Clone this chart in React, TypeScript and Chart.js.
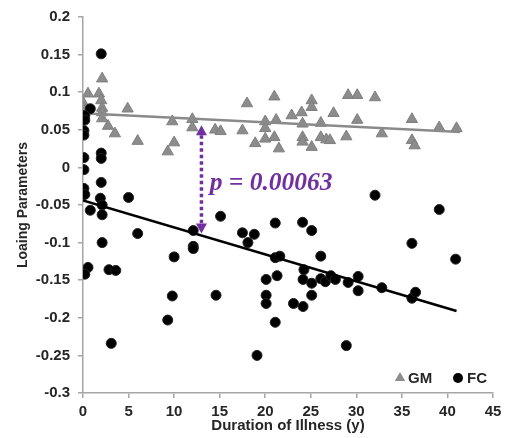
import { useEffect, useRef } from "react";
import { Chart, registerables } from "chart.js";

Chart.register(...registerables);

// Gray matter (GM) loading parameters vs duration of illness
const gmDuration = [
  0.0, 0.3, 0.55, 1.75, 2.0, 2.1, 2.1, 2.1, 2.1, 2.75, 3.5, 4.9, 6.0, 9.8, 10.0, 9.3,
  12.0, 12.0, 14.5, 15.1, 17.5, 18.0, 21.0, 20.0, 21.2, 20.0, 18.9, 20.0, 21.0, 21.5,
  22.9, 24.0, 25.1, 25.1, 24.1, 26.1, 24.1, 24.1, 25.1, 26.1, 26.7, 27.1, 27.5, 29.1,
  30.1, 32.05, 30.1, 36.1, 39.1, 41.0, 28.9, 32.8, 36.1, 36.4,
];
const gmLoading = [
  0.086, 0.076, 0.098, 0.098, 0.089, 0.118, 0.079, 0.073, 0.065, 0.055, 0.045, 0.078, 0.035, 0.061, 0.033, 0.021,
  0.064, 0.053, 0.05, 0.048, 0.049, 0.085, 0.094, 0.061, 0.063, 0.052, 0.032, 0.038, 0.04, 0.025,
  0.069, 0.073, 0.089, 0.08, 0.058, 0.059, 0.04, 0.034, 0.027, 0.04, 0.037, 0.036, 0.072, 0.096,
  0.096, 0.093, 0.063, 0.064, 0.053, 0.052, 0.041, 0.045, 0.036, 0.029,
];

// Functional connectivity (FC) loading parameters vs duration of illness
const fcDuration = [
  0.1, 2.0, 2.0, 2.0, 0.1, 2.0, 0.1, 0.2, 1.9, 5.0, 0.8, 2.1, 2.1, 6.0, 2.1, 12.1,
  12.1, 12.1, 10.0, 0.55, 0.2, 2.85, 3.6, 9.8, 9.3, 3.1, 0.8, 0.2, 0.2, 0.1, 0.1,
  15.1, 21.1, 24.1, 25.1, 17.5, 18.8, 18.1, 21.1, 21.6, 26.1, 24.25, 20.1, 21.3, 24.15,
  25.1, 26.1, 26.6, 27.2, 27.7, 14.6, 20.1, 20.1, 23.1, 24.15, 25.1, 21.1, 19.1,
  32.05, 39.1, 36.1, 40.9, 29.1, 30.2, 30.2, 32.8, 36.1, 36.5, 28.9,
];
const fcLoading = [
  0.013, 0.151, 0.019, 0.012, -0.003, -0.02, -0.028, -0.036, -0.041, -0.04, -0.057, -0.05, -0.063, -0.088, -0.1, -0.084,
  -0.105, -0.108, -0.119, -0.133, -0.142, -0.136, -0.137, -0.171, -0.203, -0.234, 0.078, 0.069, 0.063, 0.049, 0.043,
  -0.065, -0.074, -0.073, -0.084, -0.087, -0.089, -0.1, -0.12, -0.118, -0.118, -0.136, -0.149, -0.144, -0.149,
  -0.154, -0.148, -0.152, -0.144, -0.149, -0.17, -0.17, -0.181, -0.181, -0.185, -0.17, -0.206, -0.25,
  -0.037, -0.056, -0.101, -0.122, -0.153, -0.145, -0.164, -0.16, -0.174, -0.166, -0.237,
];

// Linear trend lines (end points)
const gmTrendDuration = [0, 41.4];
const gmTrendLoading = [0.072, 0.047];
const fcTrendDuration = [0, 41];
const fcTrendLoading = [-0.044, -0.191];

// Annotation
const arrowDuration = 13;
const arrowTop = 0.056;
const arrowBottom = -0.088;
const pLabel = "p = 0.00063";
const pLabelDuration = 13.9;
const pLabelLoading = -0.0295;

const seriesNames = ["GM", "FC"];
const xTitle = "Duration of Illness (y)";
const yTitle = "Loaing Parameters";

const PURPLE = "#7030A0";
const GM_COLOR = "#8c8c8c";
const AXIS_COLOR = "#a6a6a6";
const TEXT_COLOR = "#262626";

const toPoints = (xs: number[], ys: number[]) => xs.map((x, i) => ({ x, y: ys[i] }));

const annotationPlugin = {
  id: "annotationPlugin",
  afterDatasetsDraw(chart: any) {
    const { ctx, scales } = chart;
    const x = scales.x.getPixelForValue(arrowDuration);
    const yTop = scales.y.getPixelForValue(arrowTop);
    const yBot = scales.y.getPixelForValue(arrowBottom);
    const head = 10;
    const halfW = 5.5;
    ctx.save();
    ctx.strokeStyle = PURPLE;
    ctx.fillStyle = PURPLE;
    ctx.lineWidth = 3.5;
    ctx.setLineDash([3.5, 3]);
    ctx.beginPath();
    ctx.moveTo(x, yTop + head);
    ctx.lineTo(x, yBot - head);
    ctx.stroke();
    ctx.setLineDash([]);
    ctx.beginPath();
    ctx.moveTo(x, yTop);
    ctx.lineTo(x - halfW, yTop + head);
    ctx.lineTo(x + halfW, yTop + head);
    ctx.closePath();
    ctx.fill();
    ctx.beginPath();
    ctx.moveTo(x, yBot);
    ctx.lineTo(x - halfW, yBot - head);
    ctx.lineTo(x + halfW, yBot - head);
    ctx.closePath();
    ctx.fill();
    // p-value text
    ctx.font = "italic bold 25.5px 'Liberation Serif', 'Times New Roman', serif";
    ctx.textAlign = "left";
    ctx.textBaseline = "alphabetic";
    ctx.fillText(
      pLabel,
      scales.x.getPixelForValue(pLabelDuration),
      scales.y.getPixelForValue(pLabelLoading)
    );
    ctx.restore();
  },
};

const legendPlugin = {
  id: "insideLegend",
  afterDraw(chart: any) {
    const { ctx, chartArea } = chart;
    const cy = chartArea.bottom - 15;
    const triX = chartArea.right - 93;
    const cirX = chartArea.right - 35;
    ctx.save();
    // triangle
    ctx.fillStyle = GM_COLOR;
    const r = 6;
    ctx.beginPath();
    ctx.moveTo(triX, cy - r);
    ctx.lineTo(triX + r * Math.sin((2 * Math.PI) / 3), cy - r * Math.cos((2 * Math.PI) / 3));
    ctx.lineTo(triX + r * Math.sin((4 * Math.PI) / 3), cy - r * Math.cos((4 * Math.PI) / 3));
    ctx.closePath();
    ctx.fill();
    // circle
    ctx.fillStyle = "#000";
    ctx.beginPath();
    ctx.arc(cirX, cy, 5, 0, Math.PI * 2);
    ctx.fill();
    ctx.fillStyle = TEXT_COLOR;
    ctx.font = "bold 15px 'Liberation Sans', Arial, sans-serif";
    ctx.textAlign = "left";
    ctx.textBaseline = "middle";
    ctx.fillText(seriesNames[0], triX + 8, cy + 1);
    ctx.fillText(seriesNames[1], cirX + 9, cy + 1);
    ctx.restore();
  },
};

export default function App() {
  const canvasRef = useRef<HTMLCanvasElement | null>(null);

  useEffect(() => {
    document.body.style.margin = "0";
    const canvas = canvasRef.current;
    if (!canvas) return;
    const chart = new Chart(canvas, {
      type: "scatter",
      data: {
        datasets: [
          {
            type: "line",
            label: "FC trend",
            data: toPoints(fcTrendDuration, fcTrendLoading),
            borderColor: "#000",
            borderWidth: 2.5,
            pointRadius: 0,
            fill: false,
            order: 0,
          } as any,
          {
            label: seriesNames[1],
            data: toPoints(fcDuration, fcLoading),
            pointStyle: "circle",
            pointRadius: 5,
            backgroundColor: "#000",
            borderColor: "#222",
            borderWidth: 1,
            order: 1,
          },
          {
            type: "line",
            label: "GM trend",
            data: toPoints(gmTrendDuration, gmTrendLoading),
            borderColor: "#8a8a8a",
            borderWidth: 2.5,
            pointRadius: 0,
            fill: false,
            order: 2,
          } as any,
          {
            label: seriesNames[0],
            data: toPoints(gmDuration, gmLoading),
            pointStyle: "triangle",
            pointRadius: 6.5,
            backgroundColor: GM_COLOR,
            borderColor: "#7f7f7f",
            borderWidth: 1,
            order: 3,
          },
        ],
      },
      options: {
        responsive: false,
        animation: false,
        layout: { padding: { top: 17, right: 26, bottom: 0, left: 0 } },
        plugins: {
          legend: { display: false },
          tooltip: { enabled: false },
        },
        scales: {
          x: {
            type: "linear",
            min: 0,
            max: 45,
            ticks: {
              stepSize: 5,
              color: TEXT_COLOR,
              padding: 5,
              font: { family: "'Liberation Sans', Arial, sans-serif", size: 15, weight: "bold" },
            },
            grid: { drawOnChartArea: false, drawTicks: true, tickLength: 5, color: AXIS_COLOR, lineWidth: 1.5 },
            border: { color: AXIS_COLOR, width: 1.5 },
            title: {
              display: true,
              text: xTitle,
              color: TEXT_COLOR,
              padding: { top: 0, bottom: 3 },
              font: { family: "'Liberation Sans', Arial, sans-serif", size: 15, weight: "bold" },
            },
            afterFit: (scale: any) => {
              scale.height = 45;
            },
          },
          y: {
            type: "linear",
            min: -0.3,
            max: 0.2,
            ticks: {
              stepSize: 0.05,
              color: TEXT_COLOR,
              padding: 8,
              font: { family: "'Liberation Sans', Arial, sans-serif", size: 15, weight: "bold" },
              callback: (v: any) => String(Number(Number(v).toFixed(2))),
            },
            grid: { drawOnChartArea: false, drawTicks: true, tickLength: 5, color: AXIS_COLOR, lineWidth: 1.5 },
            border: { color: AXIS_COLOR, width: 1.5 },
            title: {
              display: true,
              text: yTitle,
              color: TEXT_COLOR,
              padding: { top: 15, bottom: 0 },
              font: { family: "'Liberation Sans', Arial, sans-serif", size: 14, weight: "bold" },
            },
            afterFit: (scale: any) => {
              scale.width = 83;
            },
          },
        },
      },
      plugins: [annotationPlugin, legendPlugin],
    });
    return () => chart.destroy();
  }, []);

  return <canvas ref={canvasRef} width={519} height={438} style={{ display: "block" }} />;
}
